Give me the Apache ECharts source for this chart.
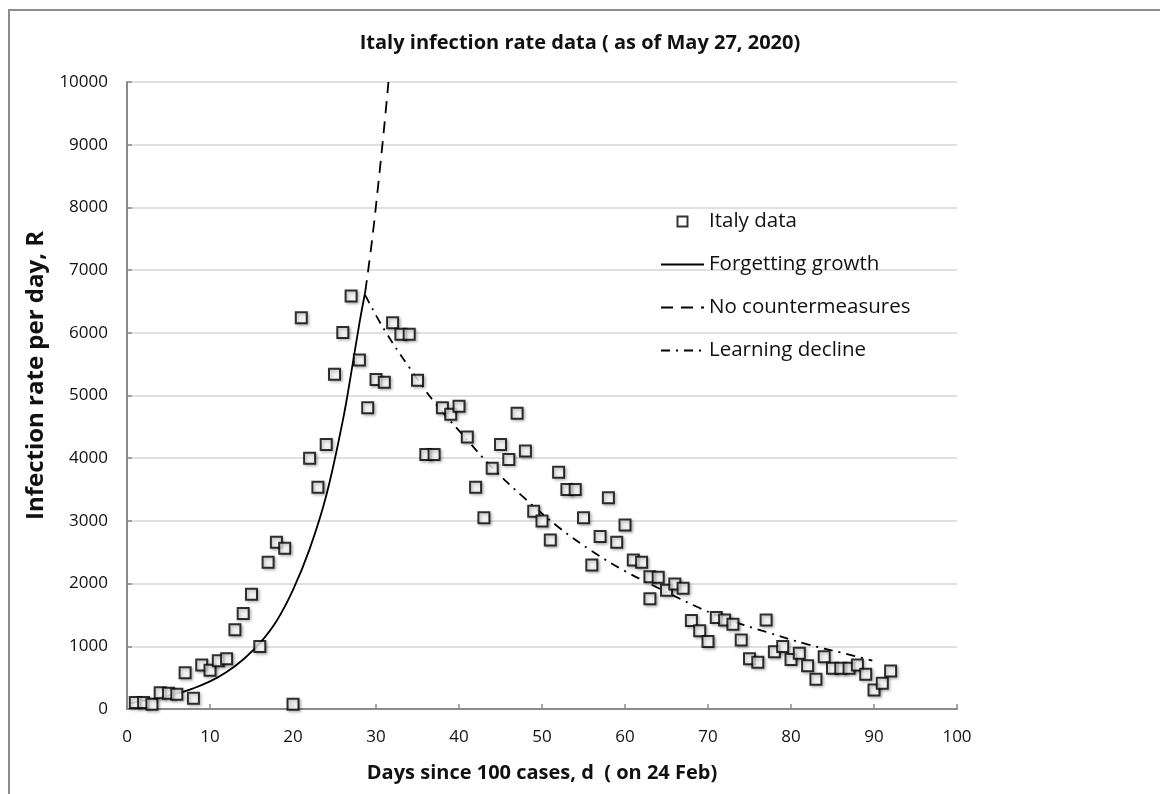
<!DOCTYPE html>
<html>
<head>
<meta charset="utf-8">
<title>Italy infection rate data</title>
<script src="https://cdn.jsdelivr.net/npm/echarts/dist/echarts.min.js"></script>
<style>
    html, body { margin: 0; padding: 0; background: #fff; }
    #chart { width: 1160px; height: 794px; }
</style>
</head>
<body>
<div id="chart"></div>
<script>
// Italy data (squares)
var italyDays = [1, 2, 3, 4, 5, 6, 7, 8, 9, 10, 11, 12, 13, 14, 15, 16, 17, 18, 19, 20,
    21, 22, 23, 24, 25, 26, 27, 28, 29, 30, 31, 32, 33, 34, 35, 36, 37, 38, 39, 40,
    41, 42, 43, 44, 45, 46, 47, 48, 49, 50, 51, 52, 53, 54, 55, 56, 57, 58, 59, 60,
    61, 62, 63, 63, 64, 65, 66, 67, 68, 69, 70, 71, 72, 73, 74, 75, 76, 77, 78, 79, 80,
    81, 82, 83, 84, 85, 86, 87, 88, 89, 90, 91, 92];
var italyRate = [105, 105, 75, 260, 250, 235, 580, 170, 700, 620, 770, 800, 1265, 1525, 1830, 995, 2340, 2660, 2565, 75,
    6240, 4000, 3535, 4220, 5340, 6005, 6585, 5565, 4805, 5255, 5210, 6160, 5975, 5975, 5245, 4060, 4060, 4805, 4700, 4830,
    4340, 3535, 3050, 3840, 4220, 3980, 4715, 4115, 3155, 3000, 2695, 3775, 3500, 3500, 3050, 2295, 2750, 3370, 2660, 2935,
    2375, 2340, 2110, 1760, 2100, 1895, 1995, 1925, 1410, 1250, 1075, 1460, 1420, 1350, 1100, 800, 745, 1420, 915, 995, 790,
    890, 690, 475, 835, 650, 650, 650, 700, 555, 305, 410, 605];

// model curves
var growthDays = [0.5, 2, 4, 6, 8, 10, 12, 14, 16, 18, 20, 22, 24, 26, 27, 28, 28.7];
var growthRate = [95, 130, 185, 245, 330, 440, 590, 790, 1050, 1400, 1900, 2550, 3400, 4600, 5350, 6150, 6650];

var noCounterDays = [28.7, 29.5, 30.3, 31, 31.5];
var noCounterRate = [6650, 7450, 8400, 9300, 10000];

var declineDays = [28.7, 31, 34, 37, 41, 44, 48, 52, 56, 60, 64, 69, 73, 77, 82, 86, 89.8];
var declineRate = [6600, 6050, 5450, 4900, 4290, 3850, 3350, 2900, 2520, 2200, 1930, 1610, 1400, 1230, 1030, 900, 770];

function pairs(xs, ys) {
    var out = [];
    for (var i = 0; i < xs.length; i++) {
        out.push([xs[i], ys[i]]);
    }
    return out;
}

var axisColor = '#8a8a8a';
var font = '"Open Sans", "Liberation Sans", Arial, sans-serif';

var chart = echarts.init(document.getElementById('chart'));
chart.setOption({
    animation: false,
    backgroundColor: '#fff',
    title: {
        text: 'Italy infection rate data ( as of May 27, 2020)',
        left: 'center',
        top: 28,
        textStyle: {
            fontFamily: font,
            fontSize: 20,
            fontWeight: 'bold',
            color: '#111'
        }
    },
    // outer frame of the chart area
    graphic: [{
        type: 'rect',
        shape: { x: 9, y: 10, width: 1200, height: 900 },
        style: { fill: 'none', stroke: '#8c8c8c', lineWidth: 2 },
        silent: true
    }],
    grid: {
        left: 127,
        right: 203,
        top: 82,
        bottom: 85
    },
    legend: {
        orient: 'vertical',
        left: 655,
        top: 206,
        itemWidth: 43,
        itemHeight: 10,
        itemGap: 22,
        textStyle: {
            fontFamily: font,
            fontSize: 20.5,
            lineHeight: 20,
            color: '#111'
        },
        data: [{
            name: 'Italy data',
            icon: 'path://M0,0H10V10H0Z',
            itemStyle: { color: '#fff', borderColor: '#000', borderWidth: 2 }
        }, {
            name: 'Forgetting growth',
            itemStyle: { opacity: 0 }
        }, {
            name: 'No countermeasures',
            itemStyle: { opacity: 0 }
        }, {
            name: 'Learning decline',
            itemStyle: { opacity: 0 }
        }]
    },
    xAxis: {
        type: 'value',
        min: 0,
        max: 100,
        interval: 10,
        name: 'Days since 100 cases, d  ( on 24 Feb)',
        nameLocation: 'middle',
        nameGap: 54,
        nameTextStyle: {
            fontFamily: font,
            fontSize: 20,
            fontWeight: 'bold',
            color: '#111'
        },
        axisLine: { lineStyle: { color: axisColor, width: 2 } },
        axisTick: { inside: true, length: 5, lineStyle: { color: axisColor, width: 1.5 } },
        axisLabel: { margin: 20, fontFamily: font, fontSize: 17, color: '#111' },
        splitLine: { show: false }
    },
    yAxis: {
        type: 'value',
        min: 0,
        max: 10000,
        interval: 1000,
        name: 'Infection rate per day, R',
        nameLocation: 'middle',
        nameGap: 66,
        nameTextStyle: {
            fontFamily: font,
            fontSize: 24,
            fontWeight: 'bold',
            color: '#111',
            padding: [0, 0, 0, 40]
        },
        axisLine: { show: true, lineStyle: { color: axisColor, width: 2 } },
        axisTick: { show: true, inside: true, length: 5, lineStyle: { color: axisColor, width: 1.5 } },
        axisLabel: {
            margin: 19,
            fontFamily: font,
            fontSize: 17,
            color: '#111',
            formatter: function (value) {
                return String(value);
            }
        },
        splitLine: { show: true, lineStyle: { color: '#d6d6d6', width: 1.5 } }
    },
    series: [{
        name: 'Italy data',
        type: 'scatter',
        symbol: 'rect',
        symbolSize: 11,
        z: 5,
        itemStyle: {
            color: '#fff',
            borderColor: '#000',
            borderWidth: 2,
            shadowColor: 'rgba(0,0,0,0.35)',
            shadowBlur: 3,
            shadowOffsetX: 1.5,
            shadowOffsetY: 1.5
        },
        data: pairs(italyDays, italyRate)
    }, {
        name: 'Forgetting growth',
        type: 'line',
        symbol: 'none',
        smooth: 0.4,
        lineStyle: { color: '#000', width: 1.8, type: 'solid' },
        itemStyle: { color: '#000' },
        data: pairs(growthDays, growthRate)
    }, {
        name: 'No countermeasures',
        type: 'line',
        symbol: 'none',
        smooth: 0.4,
        lineStyle: { color: '#000', width: 1.8, type: [12, 8] },
        itemStyle: { color: '#000' },
        data: pairs(noCounterDays, noCounterRate)
    }, {
        name: 'Learning decline',
        type: 'line',
        symbol: 'none',
        smooth: 0.4,
        lineStyle: { color: '#000', width: 1.8, type: [9, 6, 2, 6] },
        itemStyle: { color: '#000' },
        data: pairs(declineDays, declineRate)
    }]
});
</script>
</body>
</html>
